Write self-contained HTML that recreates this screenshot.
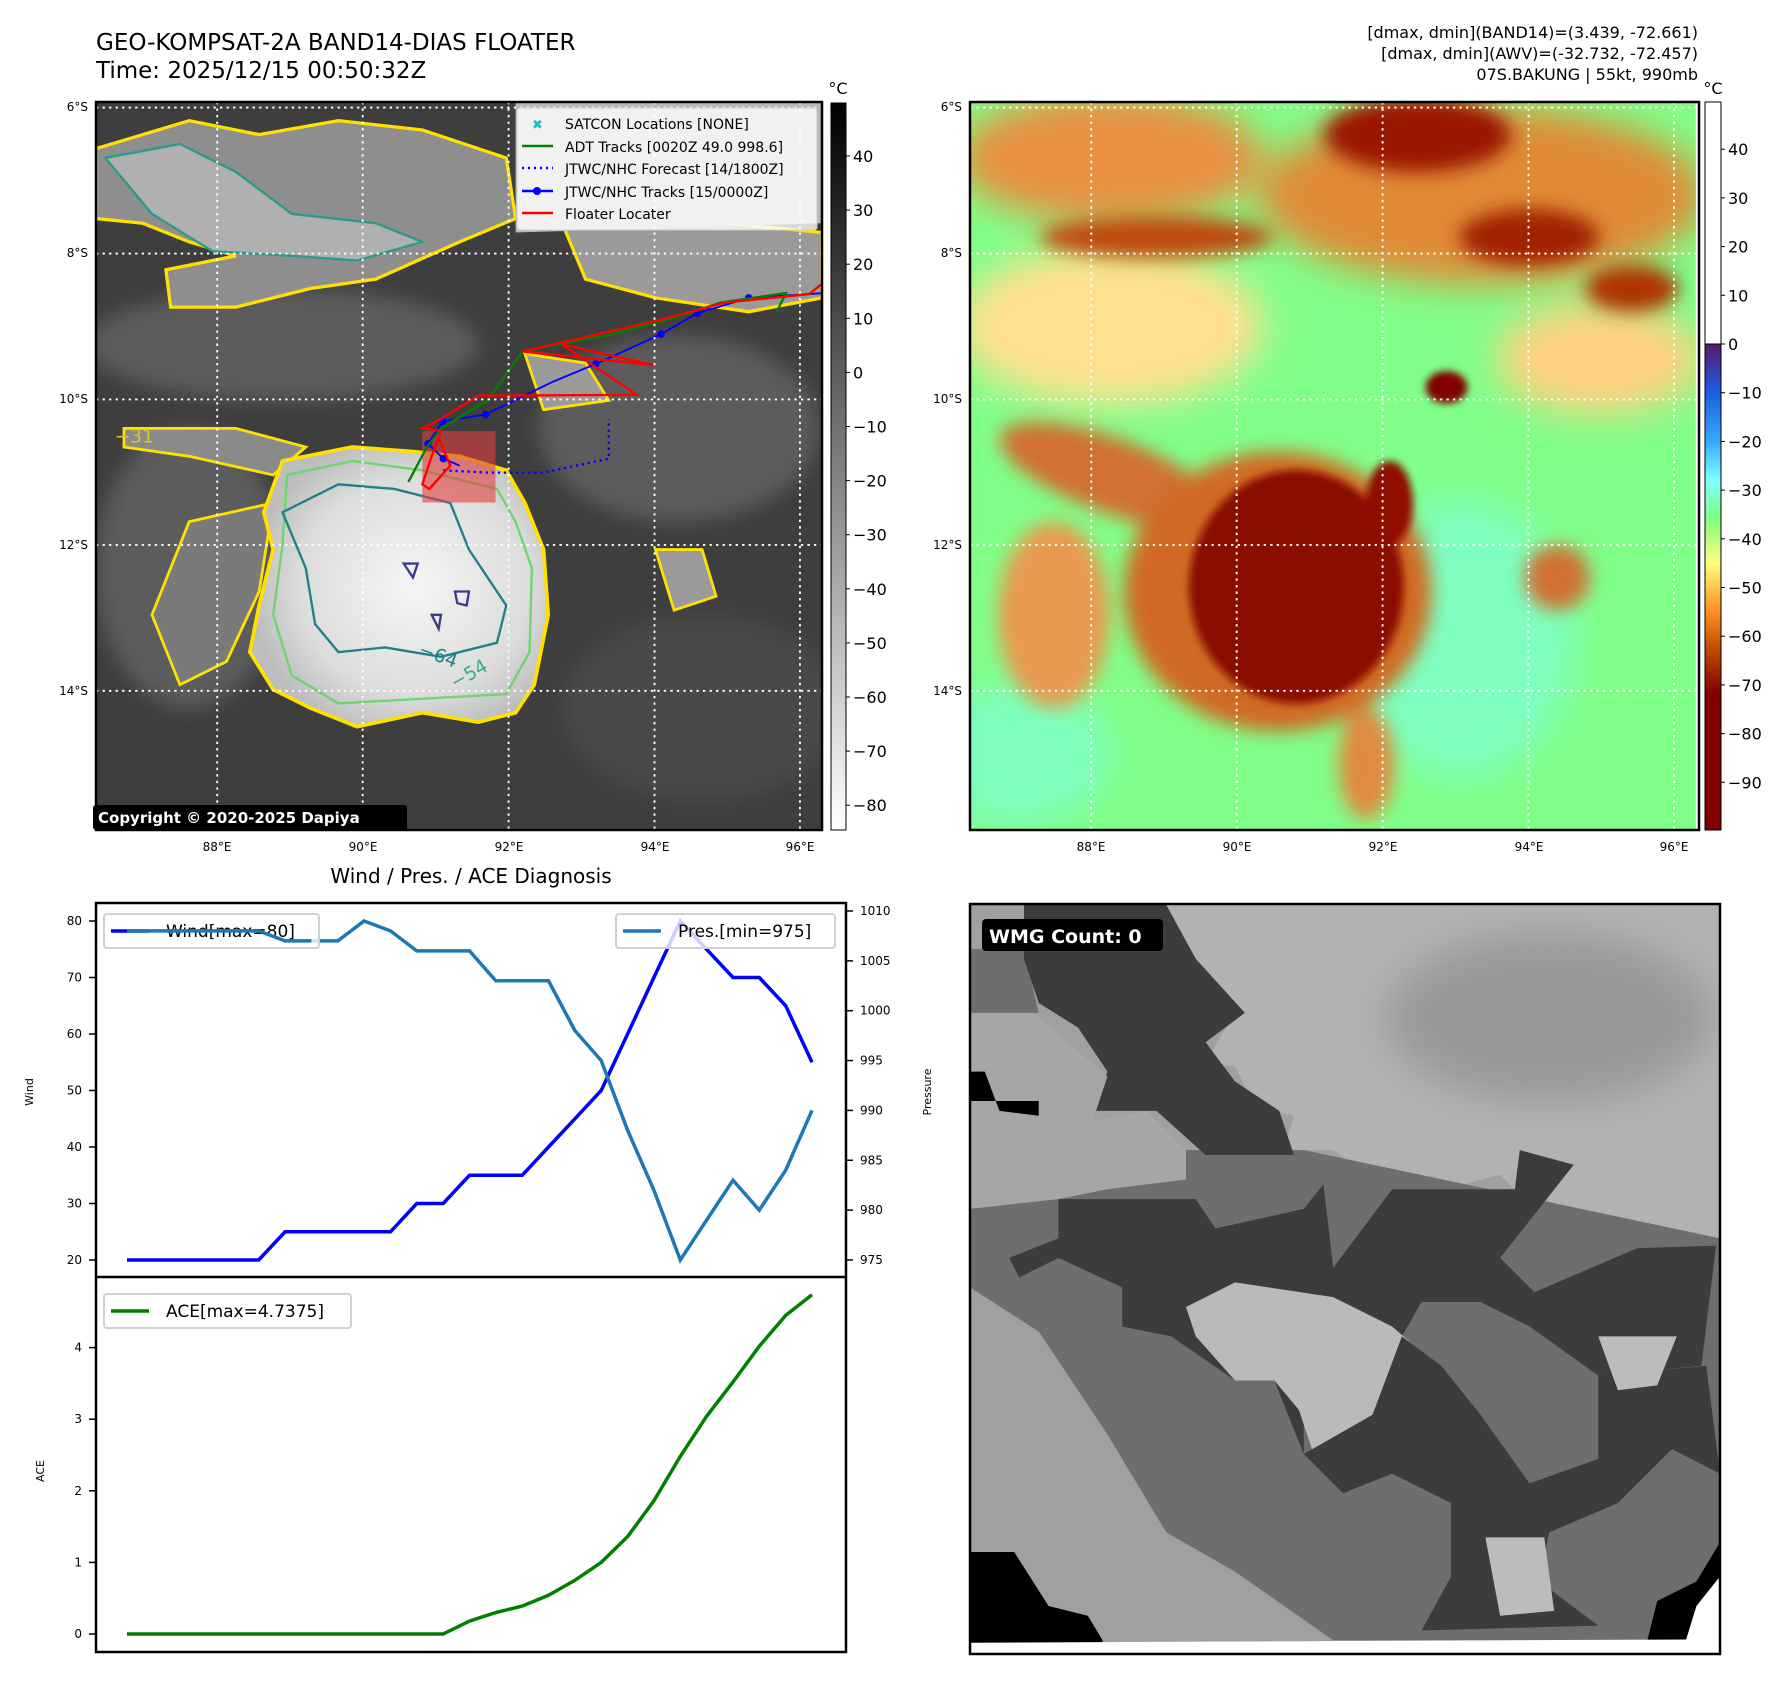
<!DOCTYPE html>
<html><head><meta charset="utf-8">
<style>
html,body{margin:0;padding:0;background:#fff;}
svg{display:block;font-family:"DejaVu Sans","Liberation Sans",sans-serif;}
</style></head>
<body>
<svg id="root" width="1788" height="1691" viewBox="0 0 1788 1691" xmlns="http://www.w3.org/2000/svg">
<defs>
  <filter id="b8" x="-20%" y="-20%" width="140%" height="140%"><feGaussianBlur stdDeviation="8"/></filter>
  <filter id="b20" x="-30%" y="-30%" width="160%" height="160%"><feGaussianBlur stdDeviation="20"/></filter>
  <filter id="b40" x="-30%" y="-30%" width="160%" height="160%"><feGaussianBlur stdDeviation="40"/></filter>
  <linearGradient id="cbGray" x1="0" y1="0" x2="0" y2="1"><stop offset="0" stop-color="#000"/><stop offset="1" stop-color="#fff"/></linearGradient>
  <linearGradient id="cbJet" x1="0" y1="0" x2="0" y2="1">
    <stop offset="0" stop-color="#5c1670"/><stop offset="0.1" stop-color="#1a5ee0"/><stop offset="0.2" stop-color="#3aa8ff"/>
    <stop offset="0.28" stop-color="#80ffff"/><stop offset="0.36" stop-color="#80ff80"/><stop offset="0.45" stop-color="#ffff80"/>
    <stop offset="0.55" stop-color="#ff9020"/><stop offset="0.63" stop-color="#c04800"/><stop offset="0.72" stop-color="#800000"/><stop offset="1" stop-color="#800000"/>
  </linearGradient>
  <radialGradient id="stormGray" cx="0.55" cy="0.5" r="0.55"><stop offset="0" stop-color="#f6f6f6"/><stop offset="0.7" stop-color="#dcdcdc"/><stop offset="1" stop-color="#bdbdbd"/></radialGradient>
  <clipPath id="clipL"><rect x="0" y="0" width="1557" height="1560"/></clipPath>
  <clipPath id="clipW"><rect x="20" y="18" width="1528" height="1530"/></clipPath>
</defs>

<!-- titles -->
<text x="96" y="50" font-size="23" fill="#000">GEO-KOMPSAT-2A BAND14-DIAS FLOATER</text>
<text x="96" y="78" font-size="23" fill="#000">Time: 2025/12/15 00:50:32Z</text>
<g font-size="16" text-anchor="end" fill="#000">
  <text x="1698" y="38">[dmax, dmin](BAND14)=(3.439, -72.661)</text>
  <text x="1698" y="59">[dmax, dmin](AWV)=(-32.732, -72.457)</text>
  <text x="1698" y="80">07S.BAKUNG | 55kt, 990mb</text>
</g>

<!-- LEFT MAP -->
<g>
<g transform="translate(96,102) scale(0.4662)" clip-path="url(#clipL)">
  <rect x="0" y="0" width="1557" height="1560" fill="#3e3e3e"/>
  <g filter="url(#b20)" fill="#5c5c5c">
    <ellipse cx="400" cy="520" rx="420" ry="120"/>
    <ellipse cx="1250" cy="700" rx="300" ry="200"/>
    <ellipse cx="200" cy="1000" rx="200" ry="300"/>
    <ellipse cx="1300" cy="1300" rx="300" ry="200" fill="#4a4a4a"/>
  </g>
  <path d="M0,100 L200,40 L350,70 L520,40 L700,60 L880,120 L900,250 L780,300 L600,380 L460,400 L300,440 L160,440 L150,360 L300,330 L200,300 L100,260 L0,250Z" fill="#8e8e8e" stroke="#ffe000" stroke-width="7"/>
  <path d="M20,120 L180,90 L300,150 L420,240 L600,260 L700,300 L560,340 L420,330 L250,320 L120,240Z" fill="#b0b0b0" stroke="#2a9a8a" stroke-width="5"/>
  <path d="M1000,260 L1250,250 L1557,280 L1557,420 L1400,450 L1200,420 L1050,380Z" fill="#9a9a9a" stroke="#ffe000" stroke-width="7"/>
  <path d="M900,0 L1557,0 L1557,260 L900,280Z" fill="#b8b8b8"/>
  <path d="M920,540 L1050,560 L1100,640 L960,660Z" fill="#9a9a9a" stroke="#ffe000" stroke-width="6"/>
  <path d="M60,700 L300,700 L450,740 L380,800 L200,760 L60,740Z" fill="#8a8a8a" stroke="#ffe000" stroke-width="6"/>
  <path d="M200,900 L380,860 L350,1050 L280,1200 L180,1250 L120,1100Z" fill="#7a7a7a" stroke="#ffe000" stroke-width="6"/>
  <path d="M1200,960 L1300,960 L1330,1060 L1240,1090Z" fill="#9a9a9a" stroke="#ffe000" stroke-width="6"/>
  <path d="M400,770 L550,740 L680,750 L780,760 L880,790 L920,860 L960,960 L970,1100 L940,1250 L900,1310 L820,1330 L700,1310 L560,1340 L460,1300 L380,1260 L330,1180 L350,1080 L380,960 L360,880Z" fill="url(#stormGray)" stroke="#ffe000" stroke-width="8"/>
  <path d="M410,800 L550,770 L700,790 L860,830 L900,900 L935,1000 L930,1180 L880,1270 L700,1280 L520,1290 L420,1230 L380,1100 L400,950Z" fill="none" stroke="#6dd66d" stroke-width="5"/>
  <path d="M400,880 L520,820 L640,830 L760,860 L800,960 L880,1080 L860,1160 L740,1190 L620,1170 L520,1180 L470,1120 L450,1000Z" fill="none" stroke="#1f7f8a" stroke-width="5"/>
  <path d="M660,990 L690,990 L680,1020Z M770,1050 L800,1050 L795,1080 L775,1075Z M720,1100 L740,1100 L735,1130Z" fill="none" stroke="#3b3b8a" stroke-width="5"/>
  <text x="690" y="1185" font-size="40" fill="#1f7f8a" transform="rotate(20 690 1185)">−64</text>
  <text x="770" y="1260" font-size="40" fill="#3aa88a" transform="rotate(-30 770 1260)">−54</text>
  <text x="40" y="730" font-size="40" fill="#d8c820">−31</text>
  <rect x="700" y="706" width="157" height="153" fill="#e04040" opacity="0.6"/>
  <polyline points="1557,410 1530,412 1400,420 1290,453 1212,498 1072,562 980,600 836,670 744,685 712,733 745,765 780,780" fill="none" stroke="#0000ff" stroke-width="4"/>
  <g fill="#0000ff"><circle cx="1400" cy="420" r="8"/><circle cx="1290" cy="453" r="8"/><circle cx="1212" cy="498" r="8"/><circle cx="1072" cy="562" r="8"/><circle cx="836" cy="670" r="8"/><circle cx="744" cy="685" r="8"/><circle cx="712" cy="733" r="8"/><circle cx="745" cy="765" r="8"/></g>
  <polyline points="745,790 840,795 960,795 1100,765 1100,680" fill="none" stroke="#0000ff" stroke-width="5" stroke-dasharray="5,8"/>
  <polyline points="670,815 710,740 740,700 840,640 915,535 990,520 1100,500 1250,460 1340,430 1480,410 1460,450 M990,530 1000,680 M1100,500 1110,560 M1250,460 1270,495" fill="none" stroke="#008000" stroke-width="5"/>
  <polyline points="1557,390 1530,412 1350,430 1200,470 915,535 1200,565 1000,520 1160,628 820,630 740,680 700,700 740,705 720,760 700,820 715,830 760,780 735,720" fill="none" stroke="#ff0000" stroke-width="5"/>
  <g stroke="#fff" stroke-width="4" stroke-dasharray="5,9">
    <line x1="260" y1="0" x2="260" y2="1560"/><line x1="572" y1="0" x2="572" y2="1560"/><line x1="885" y1="0" x2="885" y2="1560"/><line x1="1198" y1="0" x2="1198" y2="1560"/><line x1="1510" y1="0" x2="1510" y2="1560"/>
    <line x1="0" y1="12" x2="1557" y2="12"/><line x1="0" y1="325" x2="1557" y2="325"/><line x1="0" y1="638" x2="1557" y2="638"/><line x1="0" y1="950" x2="1557" y2="950"/><line x1="0" y1="1263" x2="1557" y2="1263"/>
  </g>
</g>
<rect x="96" y="102" width="726" height="728" fill="none" stroke="#000" stroke-width="2.5"/>
</g>

<g>
  <rect x="517" y="108" width="300" height="122" rx="3" fill="#fff" fill-opacity="0.8" stroke="#ccc"/>
  <g font-size="14" fill="#000">
    <text x="565" y="129">SATCON Locations [NONE]</text>
    <text x="565" y="152">ADT Tracks [0020Z 49.0 998.6]</text>
    <text x="565" y="174">JTWC/NHC Forecast [14/1800Z]</text>
    <text x="565" y="197">JTWC/NHC Tracks [15/0000Z]</text>
    <text x="565" y="219">Floater Locater</text>
  </g>
  <text x="532" y="129" font-size="13" fill="#20c0c0" font-weight="bold">✖</text>
  <line x1="522" y1="146" x2="553" y2="146" stroke="#008000" stroke-width="2.5"/>
  <line x1="522" y1="168" x2="553" y2="168" stroke="#0000ff" stroke-width="2.5" stroke-dasharray="2,4"/>
  <line x1="522" y1="191" x2="553" y2="191" stroke="#0000ff" stroke-width="2.5"/><circle cx="537" cy="191" r="4" fill="#0000ff"/>
  <line x1="522" y1="213" x2="553" y2="213" stroke="#ff0000" stroke-width="2.5"/>
</g>
<g>
  <rect x="93" y="805" width="314" height="25" rx="3" fill="#000"/>
  <text x="98" y="823" font-size="15" font-weight="bold" fill="#fff">Copyright © 2020-2025 Dapiya</text>
</g>

<!-- RIGHT MAP -->
<g>
<g transform="translate(970,102) scale(0.4662)" clip-path="url(#clipL)">
  <rect x="0" y="0" width="1557" height="1560" fill="#80ff88"/>
  <g filter="url(#b40)">
    <ellipse cx="1050" cy="1150" rx="250" ry="300" fill="#7effc0"/>
    <ellipse cx="100" cy="1400" rx="200" ry="150" fill="#7effc0"/>
    <ellipse cx="300" cy="480" rx="330" ry="170" fill="#ffe090"/>
    <ellipse cx="300" cy="120" rx="330" ry="140" fill="#e89040"/>
    <ellipse cx="1100" cy="200" rx="480" ry="190" fill="#e08a35"/>
    <ellipse cx="1350" cy="550" rx="220" ry="120" fill="#ffd080"/>
  </g>
  <g filter="url(#b20)">
    <ellipse cx="960" cy="70" rx="200" ry="80" fill="#9a1400"/>
    <ellipse cx="1200" cy="290" rx="150" ry="60" fill="#a02000"/>
    <ellipse cx="1420" cy="400" rx="100" ry="50" fill="#b03000"/>
    <ellipse cx="400" cy="290" rx="250" ry="45" fill="#c04810"/>
    <ellipse cx="300" cy="800" rx="250" ry="80" fill="#d07030" transform="rotate(20 300 800)"/>
    <ellipse cx="660" cy="1050" rx="330" ry="300" fill="#d06a20"/>
    <ellipse cx="1260" cy="1020" rx="70" ry="70" fill="#d07030"/>
    <ellipse cx="850" cy="1420" rx="60" ry="120" fill="#e08a40"/>
    <ellipse cx="180" cy="1100" rx="120" ry="200" fill="#e89a50"/>
  </g>
  <g filter="url(#b8)">
    <ellipse cx="700" cy="1040" rx="230" ry="250" fill="#8a0800"/>
    <ellipse cx="900" cy="860" rx="50" ry="90" fill="#900a00"/>
    <ellipse cx="1022" cy="612" rx="45" ry="35" fill="#800000"/>
  </g>
  <g stroke="#fff" stroke-width="4" stroke-dasharray="5,9">
    <line x1="260" y1="0" x2="260" y2="1560"/><line x1="572" y1="0" x2="572" y2="1560"/><line x1="885" y1="0" x2="885" y2="1560"/><line x1="1198" y1="0" x2="1198" y2="1560"/><line x1="1510" y1="0" x2="1510" y2="1560"/>
    <line x1="0" y1="12" x2="1557" y2="12"/><line x1="0" y1="325" x2="1557" y2="325"/><line x1="0" y1="638" x2="1557" y2="638"/><line x1="0" y1="950" x2="1557" y2="950"/><line x1="0" y1="1263" x2="1557" y2="1263"/>
  </g>
</g>
<rect x="970" y="102" width="729" height="728" fill="none" stroke="#000" stroke-width="2.5"/>
</g>

<g font-size="12" fill="#000">
  <g text-anchor="end"><text x="88" y="111">6°S</text><text x="88" y="257">8°S</text><text x="88" y="403">10°S</text><text x="88" y="549">12°S</text><text x="88" y="695">14°S</text>
  <text x="962" y="111">6°S</text><text x="962" y="257">8°S</text><text x="962" y="403">10°S</text><text x="962" y="549">12°S</text><text x="962" y="695">14°S</text></g>
  <g text-anchor="middle"><text x="217" y="851">88°E</text><text x="363" y="851">90°E</text><text x="509" y="851">92°E</text><text x="655" y="851">94°E</text><text x="800" y="851">96°E</text>
  <text x="1091" y="851">88°E</text><text x="1237" y="851">90°E</text><text x="1383" y="851">92°E</text><text x="1529" y="851">94°E</text><text x="1674" y="851">96°E</text></g>
</g>

<g>
  <rect x="831" y="103" width="15" height="727" fill="url(#cbGray)" stroke="#000" stroke-width="1"/>
  <text x="838" y="94" font-size="16" text-anchor="middle">°C</text>
  <g id="cb1ticks" font-size="16"></g>
</g>
<g>
  <rect x="1705" y="102" width="16" height="242" fill="#fff" stroke="#000" stroke-width="1"/>
  <rect x="1705" y="344" width="16" height="486" fill="url(#cbJet)" stroke="#000" stroke-width="1"/>
  <text x="1713" y="94" font-size="16" text-anchor="middle">°C</text>
  <g id="cb2ticks" font-size="16"></g>
</g>

<text x="471" y="883" font-size="20" text-anchor="middle">Wind / Pres. / ACE Diagnosis</text>
<g id="chart"></g>

<g>
<svg x="970" y="904" width="750" height="750" viewBox="20 18 1528 1530" preserveAspectRatio="none">
  <g clip-path="url(#clipW)">
  <rect x="0" y="0" width="1600" height="1600" fill="#a0a0a0"/>
  <path d="M420,20 L1548,20 L1548,710 L1380,720 L1300,800 L1170,810 L1100,750 L1130,600 L1100,570 L990,600 L870,600 L760,520 L660,520 L680,450 L600,430 L560,350 L500,340 L560,240 L490,200 L480,130 L420,100Z" fill="#b2b2b2"/>
  <ellipse cx="1200" cy="250" rx="330" ry="170" fill="#989898" filter="url(#b40)"/>
  <path d="M20,520 L700,520 L1548,700 L1548,1548 L1200,1548 L1050,1520 L760,1520 L560,1380 L420,1300 L300,1100 L160,890 L20,800Z" fill="#6e6e6e"/>
  <path d="M20,110 L130,110 L160,240 L20,240Z" fill="#6e6e6e"/>
  <path d="M130,20 L420,20 L480,130 L580,240 L500,300 L560,380 L650,440 L680,530 L500,530 L400,440 L270,440 L300,360 L240,270 L160,220 L130,130Z" fill="#3c3c3c"/>
  <path d="M20,240 L150,240 L300,370 L270,460 L380,440 L460,520 L460,580 L300,600 L200,620 L20,640Z" fill="#a6a6a6"/>
  <path d="M200,620 L480,620 L520,680 L700,640 L740,590 L760,760 L880,600 L1130,600 L1140,520 L1250,550 L1100,740 L1170,810 L1380,720 L1540,715 L1510,960 L1300,980 L1160,880 L1060,830 L940,830 L900,900 L840,880 L700,1000 L700,1140 L640,990 L560,990 L430,900 L330,880 L330,800 L200,740 L120,780 L100,740 L200,700Z" fill="#3c3c3c"/>
  <path d="M460,840 L560,790 L760,820 L880,880 L950,940 L920,1050 L860,1140 L720,1140 L690,1050 L640,990 L560,990 L480,900Z" fill="#bababa"/>
  <path d="M700,1140 L840,1060 L900,900 L980,960 L1060,1060 L1160,1200 L1300,1150 L1300,980 L1520,960 L1548,1180 L1450,1130 L1340,1240 L1200,1300 L1180,1400 L1300,1490 L940,1500 L1000,1390 L1000,1240 L880,1180 L780,1220 L720,1160Z" fill="#3c3c3c"/>
  <path d="M1300,900 L1460,900 L1420,1000 L1340,1010Z" fill="#bcbcbc"/>
  <path d="M1070,1310 L1190,1310 L1210,1460 L1100,1470Z" fill="#bcbcbc"/>
  <path d="M20,1340 L110,1340 L180,1450 L260,1470 L290,1520 L290,1548 L20,1548Z" fill="#000"/>
  <path d="M1548,1320 L1548,1548 L1400,1520 L1420,1440 L1500,1400Z" fill="#000"/>
  <path d="M1548,1390 L1548,1548 L1470,1548 L1500,1450Z" fill="#fff"/>
  <path d="M20,360 L50,360 L80,440 L160,450 L160,420 L20,420Z" fill="#000"/>
  <path d="M20,1525 L1548,1518 L1548,1548 L20,1548Z" fill="#fff"/>
  </g>
</svg>
<rect x="970" y="904" width="750" height="750" fill="none" stroke="#000" stroke-width="2.5"/>
<rect x="982" y="919" width="181" height="32" rx="4" fill="#000"/>
<text x="989" y="943" font-size="19" font-weight="bold" fill="#fff">WMG Count: 0</text>
</g>
</svg>

<script>
const NS = "http://www.w3.org/2000/svg";
const windValues = [20,20,20,20,20,20,25,25,25,25,25,30,30,35,35,35,40,45,50,60,70,80,75,70,70,65,55];
const presValues = [1008,1008,1008,1008,1008,1008,1007,1007,1007,1009,1008,1006,1006,1006,1003,1003,1003,998,995,988,982,975,979,983,980,984,990];
const aceValues = [0,0,0,0,0,0,0,0,0,0,0,0,0,0.18,0.3,0.39,0.54,0.75,1.0,1.36,1.86,2.48,3.04,3.52,4.02,4.45,4.7375];
const windTicks = [20,30,40,50,60,70,80];
const presTicks = [975,980,985,990,995,1000,1005,1010];
const aceTicks = [0,1,2,3,4];
const cb1Ticks = [40,30,20,10,0,-10,-20,-30,-40,-50,-60,-70,-80];
const cb2Ticks = [40,30,20,10,0,-10,-20,-30,-40,-50,-60,-70,-80,-90];

const L = 96, R = 846, T = 903, M = 1277, B = 1652;
const xOf = i => 127 + i * (812 - 127) / (windValues.length - 1);
const yWind = v => 921 + (80 - v) * 5.65;
const yPres = v => 911 + (1010 - v) * 9.97;
const yAce = v => 1634 - v * 71.6;
const fmt = v => (v < 0 ? "\u2212" + Math.abs(v) : "" + v);

const chart = document.getElementById("chart");
function mk(tag, attrs, parent) {
  const e = document.createElementNS(NS, tag);
  for (const k in attrs) e.setAttribute(k, attrs[k]);
  (parent || chart).appendChild(e);
  return e;
}
function line(vals, yf, color, name) {
  const pts = vals.map((v, i) => xOf(i).toFixed(1) + "," + yf(v).toFixed(1)).join(" ");
  const p = mk("polyline", {points: pts, fill: "none", stroke: color, "stroke-width": 3.5});
  
  
}
line(windValues, yWind, "#0000ff", "wind-line");
line(presValues, yPres, "#1f77b4", "pressure-line");
line(aceValues, yAce, "#008000", "ace-line");

mk("rect", {x: L, y: T, width: R - L, height: B - T, fill: "none", stroke: "#000", "stroke-width": 2.5});
mk("line", {x1: L, y1: M, x2: R, y2: M, stroke: "#000", "stroke-width": 2.5});

function ticks(arr, yf, side, name) {
  arr.forEach(v => {
    const y = yf(v);
    const x0 = side === "L" ? L : R;
    const d = side === "L" ? -7 : 7;
    mk("line", {x1: x0, y1: y, x2: x0 + d, y2: y, stroke: "#000", "stroke-width": 1.5});
    const t = mk("text", {x: side === "L" ? L - 14 : R + 14, y: y + 4, "font-size": 12, "text-anchor": side === "L" ? "end" : "start"});
    t.textContent = v;
    
    
  });
}
ticks(windTicks, yWind, "L", "wind-tick");
ticks(presTicks, yPres, "R", "pressure-tick");
ticks(aceTicks, yAce, "L", "ace-tick");

function vlabel(txt, x, y, name) {
  const t = mk("text", {x: x, y: y, "font-size": 11, "text-anchor": "middle", transform: "rotate(-90 " + x + " " + y + ")"});
  t.textContent = txt;
  
  
}
vlabel("Wind", 33, 1092, "wind-axis-title");
vlabel("ACE", 44, 1471, "ace-axis-title");
vlabel("Pressure", 931, 1092, "pressure-axis-title");

function legend(x, y, w, color, txt, name) {
  const g = mk("g", {});
  
  
  mk("rect", {x: x, y: y, width: w, height: 34, rx: 3, fill: "#fff", "fill-opacity": 0.8, stroke: "#d0d0d0", "stroke-width": 2}, g);
  mk("line", {x1: x + 7, y1: y + 17, x2: x + 45, y2: y + 17, stroke: color, "stroke-width": 3.5}, g);
  const t = mk("text", {x: x + 62, y: y + 23, "font-size": 17}, g);
  t.textContent = txt;
}
legend(104, 914, 215, "#0000ff", "Wind[max=80]", "wind-legend");
legend(616, 914, 219, "#1f77b4", "Pres.[min=975]", "pressure-legend");
legend(104, 1294, 247, "#008000", "ACE[max=4.7375]", "ace-legend");
line(presValues.slice(0, 8), yPres, "#1f77b4", "pressure-line-overlay");

const cb1 = document.getElementById("cb1ticks");
cb1Ticks.forEach(v => {
  const y = 156 + (40 - v) * 5.41;
  mk("line", {x1: 846, y1: y, x2: 850, y2: y, stroke: "#000"}, cb1);
  const t = mk("text", {x: 853, y: y + 6}, cb1);
  t.textContent = fmt(v);
  
  
});
const cb2 = document.getElementById("cb2ticks");
cb2Ticks.forEach(v => {
  const y = 344 + (0 - v) * 4.87;
  mk("line", {x1: 1721, y1: y, x2: 1725, y2: y, stroke: "#000"}, cb2);
  const t = mk("text", {x: 1728, y: y + 6}, cb2);
  t.textContent = fmt(v);
  
  
});
</script>
</body></html>
